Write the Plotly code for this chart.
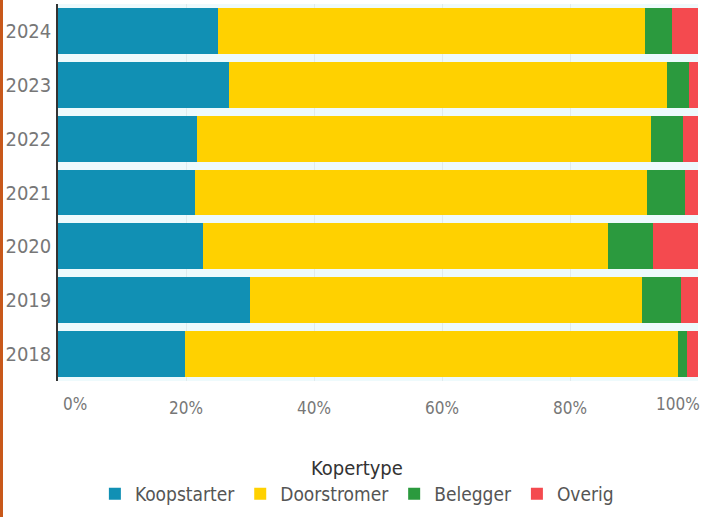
import plotly.graph_objects as go

years = ["2018", "2019", "2020", "2021", "2022", "2023", "2024"]
koopstarter = [19.8, 30.0, 22.7, 21.4, 21.7, 26.7, 25.0]
doorstromer = [77.1, 61.3, 63.2, 70.6, 71.0, 68.5, 66.7]
belegger = [1.4, 6.0, 7.1, 6.0, 5.0, 3.4, 4.3]
overig = [1.7, 2.7, 7.0, 2.0, 2.3, 1.4, 4.0]

series_names = ["Koopstarter", "Doorstromer", "Belegger", "Overig"]
series_values = [koopstarter, doorstromer, belegger, overig]
colors = ["#1190B4", "#FFD100", "#2B9A3E", "#F44A4F"]

x_ticks = [0, 20, 40, 60, 80, 100]
x_tick_labels = ["0%", "20%", "40%", "60%", "80%", "100%"]

FONT = "DejaVu Sans Condensed, DejaVu Sans, sans-serif"
TICK_COLOR = "#777777"
TICK_SIZE = 17

fig = go.Figure()
for name, vals, col in zip(series_names, series_values, colors):
    fig.add_trace(go.Bar(
        y=years, x=vals, name=name, orientation="h",
        marker=dict(color=col, line=dict(width=0)),
    ))

W, H = 705, 517
ml, mr, mt, mb = 58, 7, 4, 136

# inner tick labels drawn on the axis, the two edge labels placed inward (as in the reference)
inner_text = [t if 0 < v < 100 else "" for v, t in zip(x_ticks, x_tick_labels)]

fig.update_layout(
    width=W, height=H,
    barmode="stack",
    bargap=0.15,
    margin=dict(l=ml, r=mr, t=mt, b=mb, autoexpand=False),
    paper_bgcolor="white",
    plot_bgcolor="#EEFAFC",
    font=dict(family=FONT, color="#666666"),
    legend=dict(
        orientation="h", x=0.467, xanchor="center", y=-0.18, yanchor="top",
        title=dict(text="Kopertype", side="top center",
                   font=dict(size=20, color="#333333")),
        font=dict(size=19, color="#555555"),
        traceorder="normal",
        bgcolor="rgba(0,0,0,0)",
    ),
)
fig.update_xaxes(
    type="linear", autorange=False, range=[0, 100],
    tickmode="array", tickvals=x_ticks, ticktext=inner_text,
    showgrid=True, gridcolor="rgba(0,0,0,0.06)", zeroline=False,
    tickfont=dict(size=TICK_SIZE, color=TICK_COLOR),
    ticks="outside", ticklen=12, tickcolor="rgba(0,0,0,0)",
    automargin=False,
)
fig.update_yaxes(
    type="category", categoryorder="array", categoryarray=years,
    showline=True, linecolor="#333333", linewidth=1.5,
    tickfont=dict(size=20, color=TICK_COLOR),
    ticks="outside", ticklen=1, tickcolor="rgba(0,0,0,0)",
    showgrid=False, automargin=False,
)

for v, t in zip(x_ticks, x_tick_labels):
    if v == 0:
        fig.add_annotation(x=v, y=0, xref="x", yref="paper", text=t,
                           showarrow=False, xanchor="left", yanchor="top",
                           xshift=3, yshift=-11,
                           font=dict(size=TICK_SIZE, color=TICK_COLOR))
    elif v == 100:
        fig.add_annotation(x=v, y=0, xref="x", yref="paper", text=t,
                           showarrow=False, xanchor="right", yanchor="top",
                           xshift=4, yshift=-11,
                           font=dict(size=TICK_SIZE, color=TICK_COLOR))

pw = W - ml - mr
ph = H - mt - mb
fig.add_shape(
    type="rect", xref="paper", yref="paper",
    x0=-ml / pw, x1=(-ml + 3) / pw, y0=-mb / ph, y1=1 + mt / ph,
    fillcolor="#C8581A", line=dict(width=0), layer="above",
)

fig.write_html(
    "out.html",
    config={"displayModeBar": False},
    post_script="document.body.style.margin='0';document.body.style.padding='0';",
)
